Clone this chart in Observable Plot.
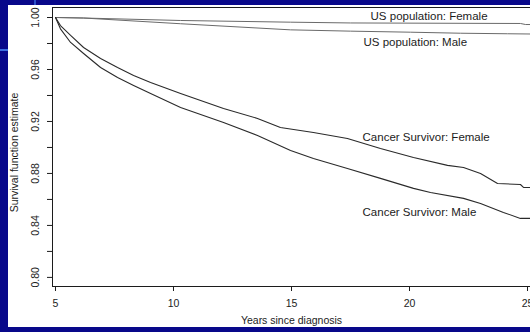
<!DOCTYPE html>
<html><head><meta charset="utf-8">
<script src="https://cdn.jsdelivr.net/npm/d3@7"></script>
<script src="https://cdn.jsdelivr.net/npm/@observablehq/plot@0.6"></script>
<style>
html,body{margin:0;padding:0;background:#08088a;width:530px;height:332px;overflow:hidden;}
#wrap{position:absolute;left:8px;top:5px;width:522px;height:322px;background:#fff;}
.hl{position:absolute;left:0;top:49px;width:8px;height:2px;background:#3c6ee0;}
.vl{position:absolute;left:34px;top:0;width:2px;height:5px;background:#2a4fc8;}
</style></head><body>
<div class="hl"></div><div class="vl"></div>
<div id="wrap"></div>
<script>
// ---- data ----
const cancerFemaleYears  = [5, 5.21, 5.64, 6.19, 6.91, 7.63, 8.31, 9.03, 10.30, 12.12, 13.56, 14.53, 15.93, 17.37, 18.77, 20.17, 21.61, 22.29, 23.01, 23.73, 24.70, 24.83, 25.13];
const cancerFemaleValues = [1.0, 0.9938, 0.9862, 0.9769, 0.9685, 0.9615, 0.9554, 0.9500, 0.9415, 0.9300, 0.9223, 0.9154, 0.9115, 0.9069, 0.8992, 0.8923, 0.8862, 0.8846, 0.8800, 0.8723, 0.8715, 0.8692, 0.8692];

const cancerMaleYears  = [5, 5.21, 5.64, 6.19, 6.91, 7.63, 8.31, 9.03, 10.30, 12.12, 13.56, 14.96, 15.93, 17.37, 18.77, 20.17, 20.89, 22.29, 23.01, 23.98, 24.70, 25.13];
const cancerMaleValues = [1.0, 0.9913, 0.9808, 0.9723, 0.9615, 0.9538, 0.9477, 0.9415, 0.9308, 0.9192, 0.9092, 0.8977, 0.8915, 0.8838, 0.8762, 0.8685, 0.8654, 0.8608, 0.8569, 0.8500, 0.8454, 0.8454];

const usFemaleYears  = [5, 6.19, 10.30, 14.96, 17.50, 24.70, 24.92, 25.13];
const usFemaleValues = [1.0, 0.9996, 0.9977, 0.9964, 0.9958, 0.9954, 0.9946, 0.9946];

const usMaleYears  = [5, 6.19, 10.30, 14.96, 17.50, 20.04, 22.16, 24.15, 25.13];
const usMaleValues = [1.0, 0.9996, 0.9952, 0.9905, 0.9895, 0.9887, 0.9879, 0.9875, 0.9873];

const seriesNames = ["US population: Female", "US population: Male", "Cancer Survivor: Female", "Cancer Survivor: Male"];
const labelYears  = [18.35, 18.05, 18.01, 18.01];
const labelValues = [1.0008, 0.9810, 0.9079, 0.8502];

const xTicks = [5, 10, 15, 20, 25];
const yTicks = [0.80, 0.82, 0.84, 0.86, 0.88, 0.90, 0.92, 0.94, 0.96, 0.98, 1.00];
const yTickLabels = [0.80, 0.84, 0.88, 0.92, 0.96, 1.00];

const xTitle = "Years since diagnosis";
const yTitle = "Survival function estimate";

// ---- build ----
const toRows = (xs, ys) => xs.map((x, i) => ({x, y: ys[i]}));
const cf = toRows(cancerFemaleYears, cancerFemaleValues);
const cm = toRows(cancerMaleYears, cancerMaleValues);
const uf = toRows(usFemaleYears, usFemaleValues);
const um = toRows(usMaleYears, usMaleValues);
const labels = seriesNames.map((t, i) => ({t, x: labelYears[i], y: labelValues[i]}));

const xDomain = [4.873, 25.127];
const yDomain = [0.793, 1.0077];
const ink = "#1c1c1c";
const font = "'Liberation Sans', Arial, Helvetica, sans-serif";

const chart = Plot.plot({
  width: 522,
  height: 322,
  marginLeft: 44,
  marginRight: 0,
  marginTop: 2,
  marginBottom: 41,
  style: {background: "#fff", fontFamily: font, fontSize: "10.5px", color: ink, overflow: "visible"},
  x: {domain: xDomain, axis: null},
  y: {domain: yDomain, axis: null},
  marks: [
    Plot.ruleY([yDomain[1]], {stroke: ink, strokeWidth: 1}),
    Plot.ruleY([yDomain[0]], {stroke: ink, strokeWidth: 1}),
    Plot.ruleX([xDomain[0]], {stroke: ink, strokeWidth: 1}),
    Plot.axisX({ticks: xTicks, tickSize: 5, tickPadding: 8, label: null, stroke: ink, fill: ink, fontSize: 10.5}),
    Plot.axisY({ticks: yTicks, tickSize: 5, tickFormat: () => "", label: null, stroke: ink}),
    Plot.text(yTickLabels, {y: d => d, frameAnchor: "left", text: d3.format(".2f"), rotate: -90, dx: -17, textAnchor: "middle", lineAnchor: "middle", fill: ink, fontSize: 10.5}),
    Plot.line(uf, {x: "x", y: "y", stroke: "#6a6a6a", strokeWidth: 1}),
    Plot.line(um, {x: "x", y: "y", stroke: "#6a6a6a", strokeWidth: 1}),
    Plot.line(cf, {x: "x", y: "y", stroke: "#2a2a2a", strokeWidth: 1.1}),
    Plot.line(cm, {x: "x", y: "y", stroke: "#2a2a2a", strokeWidth: 1.1}),
    Plot.text(labels, {x: "x", y: "y", text: "t", textAnchor: "start", lineAnchor: "middle", fill: ink, fontSize: 11.5}),
    Plot.text([xTitle], {frameAnchor: "bottom", dy: 34, lineAnchor: "middle", fill: ink, fontSize: 10.5}),
    Plot.text([yTitle], {frameAnchor: "left", rotate: -90, dx: -38, dy: 5.5, textAnchor: "middle", lineAnchor: "middle", fill: ink, fontSize: 10.5})
  ]
});
document.getElementById("wrap").appendChild(chart);
</script>
</body></html>
